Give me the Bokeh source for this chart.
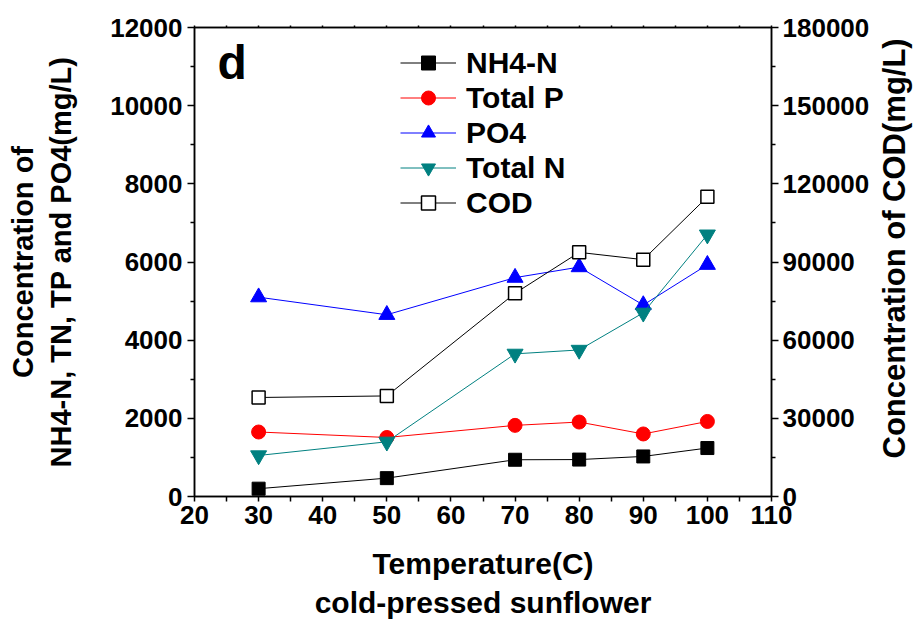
import math
from bokeh.plotting import figure
from bokeh.layouts import row
from bokeh.models import (Range1d, LinearAxis, FixedTicker, Legend, LegendItem, Label,
                          BasicTickFormatter)
from bokeh.embed import file_html
from bokeh.resources import INLINE

# ---- data ----
temperature = [30, 50, 70, 80, 90, 100]
nh4_n   = [200, 470, 940, 945, 1025, 1240]
total_p = [1650, 1510, 1820, 1905, 1600, 1920]
po4     = [5100, 4650, 5600, 5870, 4900, 5930]
total_n = [1050, 1400, 3650, 3750, 4700, 6700]
cod     = [38000, 38600, 78000, 93700, 90900, 115000]

x_ticks = [20, 30, 40, 50, 60, 70, 80, 90, 100, 110]
x_minor = [25, 35, 45, 55, 65, 75, 85, 95, 105]
y_ticks = [0, 2000, 4000, 6000, 8000, 10000, 12000]
y_minor = [1000, 3000, 5000, 7000, 9000, 11000]
y2_ticks = [0, 30000, 60000, 90000, 120000, 150000, 180000]
y2_minor = [15000, 45000, 75000, 105000, 135000, 165000]

FONT = "Liberation Sans"

p = figure(width=874, height=626, output_backend="svg", toolbar_location=None,
           x_range=Range1d(20, 110), y_range=Range1d(0, 12000))
p.extra_y_ranges = {"cod": Range1d(0, 180000)}
p.min_border_left = 194
p.min_border_right = 103
p.min_border_top = 27
p.min_border_bottom = 130
p.xgrid.visible = False
p.ygrid.visible = False
p.outline_line_color = "black"
p.outline_line_width = 1.5
p.background_fill_color = "white"
p.border_fill_color = "white"

def style_axis(ax, size_major=7, size_minor=4):
    ax.axis_line_color = "black"
    ax.axis_line_width = 1.5
    ax.major_tick_line_color = "black"
    ax.minor_tick_line_color = "black"
    ax.major_tick_line_width = 1.5
    ax.minor_tick_line_width = 1.5
    ax.major_tick_in = 0
    ax.major_tick_out = size_major
    ax.minor_tick_in = 0
    ax.minor_tick_out = size_minor
    ax.major_label_text_font = FONT
    ax.major_label_text_font_style = "bold"
    ax.major_label_text_font_size = "26px"
    ax.major_label_text_color = "black"
    ax.axis_label_text_font = FONT
    ax.axis_label_text_font_style = "bold"
    ax.axis_label_text_font_size = "29px"
    ax.axis_label_text_color = "black"

# bottom axis
xa = p.xaxis[0]
xa.ticker = FixedTicker(ticks=x_ticks, minor_ticks=x_minor)
style_axis(xa, 5, 5)
xa.major_label_standoff = 4
xa.axis_label = "Temperature(C)\ncold-pressed sunflower"
xa.axis_label_text_font_size = "30px"
xa.axis_label_standoff = 20

# left axis
ya = p.yaxis[0]
ya.ticker = FixedTicker(ticks=y_ticks, minor_ticks=y_minor)
style_axis(ya)
ya.major_label_standoff = 5
ya.axis_label = "Concentration of\nNH4-N, TN, TP and PO4(mg/L)"
ya.axis_label_standoff = 30

# right axis
ra = LinearAxis(y_range_name="cod",
                ticker=FixedTicker(ticks=y2_ticks, minor_ticks=y2_minor),
                formatter=BasicTickFormatter(use_scientific=False))
style_axis(ra)
ra.major_label_standoff = 4
p.add_layout(ra, "right")

# top axis (ticks only)
ta = LinearAxis(ticker=FixedTicker(ticks=x_ticks, minor_ticks=x_minor))
style_axis(ta, 2, 2)
ta.major_label_text_font_size = "0px"
ta.major_label_standoff = 0
p.add_layout(ta, "above")

# series
r1l = p.line(temperature, nh4_n, line_color="black", line_width=1)
r1m = p.scatter(temperature, nh4_n, marker="square", size=13, fill_color="black", line_color="black")

r2l = p.line(temperature, total_p, line_color="red", line_width=1)
r2m = p.scatter(temperature, total_p, marker="circle", size=14, fill_color="red", line_color="red")

r3l = p.line(temperature, po4, line_color="blue", line_width=1)
r3m = p.scatter(temperature, po4, marker="triangle", size=16, fill_color="blue", line_color="blue")

r4l = p.line(temperature, total_n, line_color="#008080", line_width=1)
r4m = p.scatter(temperature, total_n, marker="inverted_triangle", size=16, fill_color="#008080", line_color="#008080")

r5l = p.line(temperature, cod, line_color="black", line_width=1, y_range_name="cod")
r5m = p.scatter(temperature, cod, marker="square", size=13, fill_color="white", line_color="black",
                line_width=1.5, y_range_name="cod")

legend = Legend(items=[
    LegendItem(label="NH4-N", renderers=[r1l, r1m]),
    LegendItem(label="Total P", renderers=[r2l, r2m]),
    LegendItem(label="PO4", renderers=[r3l, r3m]),
    LegendItem(label="Total N", renderers=[r4l, r4m]),
    LegendItem(label="COD", renderers=[r5l, r5m]),
], location=(206, 276))
legend.background_fill_alpha = 0
legend.border_line_alpha = 0
legend.padding = 0
legend.margin = 0
legend.spacing = 0
legend.glyph_width = 56
legend.glyph_height = 35
legend.label_height = 35
legend.label_standoff = 10
legend.label_text_font = FONT
legend.label_text_font_style = "bold"
legend.label_text_font_size = "30px"
legend.label_text_color = "black"
p.add_layout(legend, "center")

panel = Label(x=23.6, y=11110, text="d", text_font=FONT, text_font_style="bold",
              text_font_size="48px", text_color="black", text_baseline="alphabetic")
p.add_layout(panel)

# narrow strip carrying the right-hand axis title (reads bottom to top)
p2 = figure(width=40, height=626, output_backend="svg", toolbar_location=None,
            x_range=Range1d(0, 1), y_range=Range1d(0, 1))
p2.min_border = 0
p2.axis.visible = False
p2.xgrid.visible = False
p2.ygrid.visible = False
p2.outline_line_color = None
p2.background_fill_color = "white"
p2.border_fill_color = "white"
right_title = Label(x=0.5, y=0.529, text="Concentration of COD(mg/L)", angle=math.pi / 2,
                    text_font=FONT, text_font_style="bold", text_font_size="31px",
                    text_color="black", text_align="center", text_baseline="middle")
p2.add_layout(right_title)

layout = row(p, p2, spacing=0)

open("out.html", "w").write(file_html(layout, INLINE))
